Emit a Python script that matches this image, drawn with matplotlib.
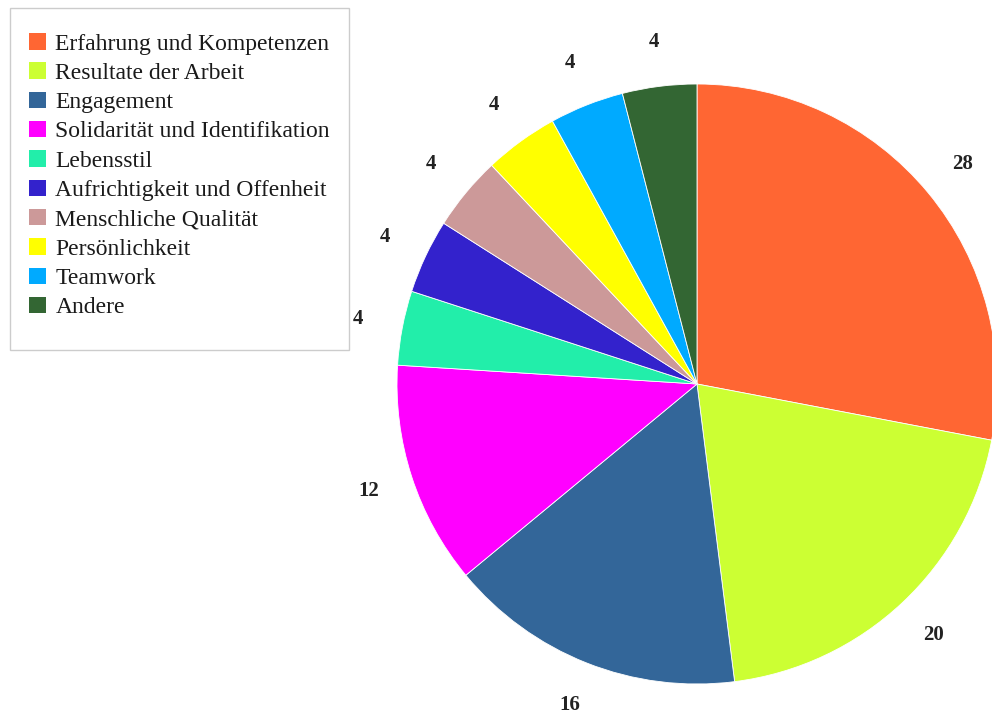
import matplotlib.pyplot as plt
from matplotlib.patches import Patch, Rectangle

categories = ["Erfahrung und Kompetenzen", "Resultate der Arbeit", "Engagement",
              "Solidarität und Identifikation", "Lebensstil", "Aufrichtigkeit und Offenheit",
              "Menschliche Qualität", "Persönlichkeit", "Teamwork", "Andere"]
values = [28, 20, 16, 12, 4, 4, 4, 4, 4, 4]
colors = ["#ff6633", "#ccff33", "#336699", "#ff00ff", "#22eeaa",
          "#3322cc", "#cc9999", "#ffff00", "#00aaff", "#336633"]

plt.rcParams['font.family'] = ['Liberation Serif', 'DejaVu Serif']

W, H = 992, 717
fig = plt.figure(figsize=(W / 100, H / 100), dpi=100)

# pie centre ~ (697, 384) px, radius ~ 300 px
cx, cy, r = 697, 384, 300
ax = fig.add_axes([(cx - r) / W, (H - cy - r) / H, 2 * r / W, 2 * r / H])
texts = ax.pie(values, colors=colors, startangle=90, counterclock=False,
               labels=[str(v) for v in values], labeldistance=1.15,
               wedgeprops=dict(edgecolor='white', linewidth=0.6),
               textprops=dict(fontsize=15, fontweight='bold', color='#222222'))[1]
for t in texts:
    t.set_horizontalalignment('center')
ax.set_xlim(-1, 1)
ax.set_ylim(-1, 1)
ax.set_aspect('equal')
ax.axis('off')

# legend frame drawn by hand (uneven padding in the original)
fig.patches.append(Rectangle((10 / W, 1 - 350 / H), 339 / W, 342 / H,
                             transform=fig.transFigure, facecolor='white',
                             edgecolor='#cccccc', linewidth=1.0))

handles = [Patch(facecolor=c, edgecolor='none') for c in colors]
leg = fig.legend(handles, categories, loc='upper left',
                 bbox_to_anchor=(29 / W, 1 - 33 / H),
                 fontsize=17, frameon=False,
                 handlelength=0.7, handleheight=0.7, handletextpad=0.42,
                 labelspacing=0.33, borderpad=0, borderaxespad=0)
for t in leg.get_texts():
    t.set_color('#1a1a1a')

fig.savefig('out.png', dpi=100)
